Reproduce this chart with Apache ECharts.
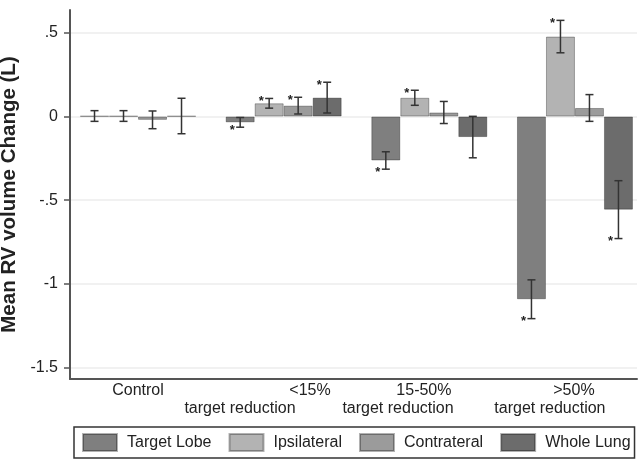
<!DOCTYPE html>
<html><head><meta charset="utf-8">
<script src="https://cdn.jsdelivr.net/npm/echarts@6/dist/echarts.min.js"></script>
<style>html,body{margin:0;padding:0;background:#fff}#c{width:639px;height:459px}</style>
</head><body><div id="c"></div>
<script>
// ---- data ----
const groupLine1 = ['Control', '<15%', '15-50%', '>50%'];
const groupLine2 = ['', 'target reduction', 'target reduction', 'target reduction'];
const seriesNames = ['Target Lobe', 'Ipsilateral', 'Contrateral', 'Whole Lung'];
const targetLobe = [0.003, -0.035, -0.263, -1.093];
const targetLobeErr = [0.032, 0.029, 0.052, 0.116];
const ipsilateral = [0.003, 0.079, 0.112, 0.478];
const ipsilateralErr = [0.032, 0.029, 0.045, 0.097];
const contralateral = [-0.02, 0.065, 0.024, 0.051];
const contralateralErr = [0.053, 0.05, 0.066, 0.08];
const wholeLung = [0.003, 0.113, -0.123, -0.557];
const wholeLungErr = [0.106, 0.092, 0.124, 0.173];
// significance marks: 1 = star at upper cap, -1 = star at lower cap, 0 = none
const targetLobeStar = [0, -1, -1, -1];
const ipsilateralStar = [0, 1, 1, 1];
const contralateralStar = [0, 1, 0, 0];
const wholeLungStar = [0, 1, 0, -1];
const yTicks = [-1.5, -1, -0.5, 0, 0.5];
const groupIndex = [0, 1, 2, 3];

// ---- styling / layout ----
const means = [targetLobe, ipsilateral, contralateral, wholeLung];
const errs = [targetLobeErr, ipsilateralErr, contralateralErr, wholeLungErr];
const stars = [targetLobeStar, ipsilateralStar, contralateralStar, wholeLungStar];
const colors = ['#7f7f7f', '#b3b3b3', '#9b9b9b', '#6c6c6c'];
const BAR_W = 29;
const FONT = 'Liberation Sans, Arial, sans-serif';
// horizontal label shifts (in group units) to mimic the original label placement
const line1Shift = [0, 0.181, -0.037, -0.007];
const line2Shift = [0, -0.300, -0.215, -0.172];
const line1Pos = groupIndex.map((g, i) => g + line1Shift[i]);
const line2Pos = groupIndex.filter((g, i) => groupLine2[i]).map((g) => g + line2Shift[g]);
function nearest(pos, v) {
  let best = 0;
  pos.forEach((p, i) => { if (Math.abs(p - v) < Math.abs(pos[best] - v)) best = i; });
  return best;
}

const chart = echarts.init(document.getElementById('c'), null, {renderer: 'canvas'});

function barSeries(k) {
  return {
    type: 'bar', name: seriesNames[k], xAxisIndex: 0, yAxisIndex: 0,
    data: means[k].map((m, i) => [groupIndex[i], m]),
    barWidth: BAR_W, barGap: '0%',
    itemStyle: {color: colors[k], borderColor: 'rgba(0,0,0,0.3)', borderWidth: 1},
    emphasis: {disabled: true},
    z: 2
  };
}
function errSeries(k) {
  return {
    type: 'custom', name: 'err' + k, z: 5, silent: true, xAxisIndex: 0, yAxisIndex: 0,
    data: means[k].map((m, i) => [groupIndex[i], m, errs[k][i], stars[k][i]]),
    encode: {x: 0, y: 1},
    renderItem: (params, api) => {
      const i = api.value(0), m = api.value(1), e = api.value(2), s = api.value(3);
      const c = api.coord([i, m]);
      const x = c[0] + (k - 1.5) * BAR_W;
      const top = api.coord([i, m + e])[1];
      const bot = api.coord([i, m - e])[1];
      const ls = {stroke: '#333', lineWidth: 1.5};
      const children = [
        {type: 'line', shape: {x1: x, y1: top, x2: x, y2: bot}, style: ls},
        {type: 'line', shape: {x1: x - 4, y1: top, x2: x + 4, y2: top}, style: ls},
        {type: 'line', shape: {x1: x - 4, y1: bot, x2: x + 4, y2: bot}, style: ls}
      ];
      if (s !== 0) {
        const y = s > 0 ? top : bot;
        children.push({type: 'text', style: {text: '*', x: x - 8, y: y + 3, align: 'center',
          verticalAlign: 'middle', font: 'bold 13px ' + FONT, fill: '#222'}});
      }
      return {type: 'group', children};
    }
  };
}

const series = [];
for (let k = 0; k < 4; k++) series.push(barSeries(k));
for (let k = 0; k < 4; k++) series.push(errSeries(k));

const gridBox = {left: 70, top: 10, right: 2, bottom: 80, containLabel: false, outerBoundsMode: 'none'};
const labelStyle = {fontSize: 16, fontFamily: FONT, color: '#222', lineHeight: 18};

chart.setOption({
  animation: false,
  backgroundColor: '#fff',
  grid: [Object.assign({}, gridBox), Object.assign({}, gridBox)],
  xAxis: [{
    type: 'value', gridIndex: 0, min: -0.467, max: 3.426,
    axisLine: {show: true, onZero: false, lineStyle: {color: '#555', width: 2}},
    axisTick: {show: false},
    splitLine: {show: false},
    axisLabel: Object.assign({
      customValues: line1Pos, margin: 3, showMinLabel: true, showMaxLabel: true,
      formatter: (v) => groupLine1[nearest(line1Pos, v)]
    }, labelStyle)
  }, {
    type: 'value', gridIndex: 1, position: 'bottom', min: -0.467, max: 3.426,
    axisLine: {show: false}, axisTick: {show: false}, splitLine: {show: false},
    axisLabel: Object.assign({
      customValues: line2Pos, margin: 21, showMinLabel: true, showMaxLabel: true,
      formatter: (v) => groupLine2[groupIndex.filter((g, i) => groupLine2[i])[nearest(line2Pos, v)]]
    }, labelStyle)
  }],
  yAxis: [{
    type: 'value', gridIndex: 0, min: -1.57, max: 0.637,
    name: 'Mean RV volume Change (L)', nameLocation: 'middle', nameGap: 44, nameRotate: 90,
    nameTextStyle: {fontSize: 20.5, fontWeight: 'bold', fontFamily: FONT, color: '#222'},
    axisLine: {show: true, onZero: false, lineStyle: {color: '#555', width: 2}},
    axisTick: {show: true, customValues: yTicks, length: 6, lineStyle: {color: '#555', width: 1.5}},
    axisLabel: {
      customValues: yTicks, margin: 12, fontSize: 16, fontFamily: FONT, color: '#222',
      showMinLabel: true, showMaxLabel: true,
      formatter: (v) => v === 0 ? '0' : String(v).replace('0.', '.')
    },
    splitLine: {show: true, lineStyle: {color: '#ececec', width: 1.5}}
  }, {
    type: 'value', gridIndex: 1, min: -1.57, max: 0.637, show: false
  }],
  legend: {
    data: seriesNames, left: 74, top: 427, width: 620, orient: 'horizontal', selectedMode: false,
    itemWidth: 34, itemHeight: 17, itemGap: 17, padding: [6, 4, 6, 8],
    borderColor: '#333', borderWidth: 1.5, icon: 'rect',
    textStyle: {fontFamily: FONT, fontSize: 16, color: '#222', padding: [0, 0, 0, 5]}
  },
  series: series
});
</script></body></html>
